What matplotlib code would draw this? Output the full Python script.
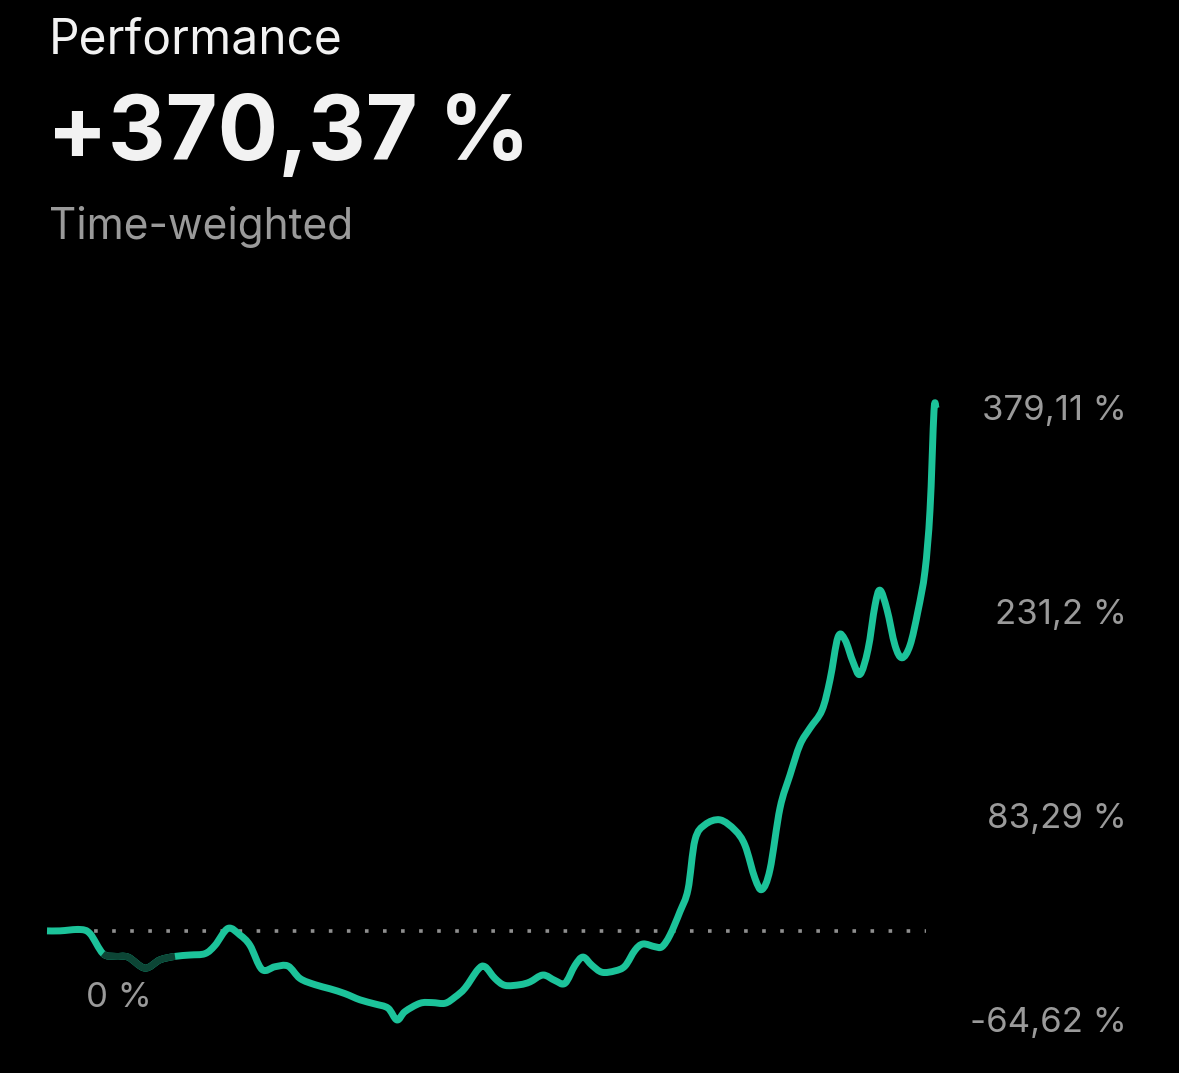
import matplotlib
matplotlib.use("Agg")
import matplotlib.pyplot as plt
import matplotlib.transforms as mtransforms
from matplotlib.path import Path
from matplotlib.patches import PathPatch

# ---- data (time steps and performance in %) ----
days = [0, 13, 33, 43, 56, 68, 81, 98, 113, 128, 143, 158, 168, 181, 193, 203,
        215, 228, 241, 253, 268, 283, 298, 313, 328, 341, 350, 358, 373, 385, 398,
        408, 418, 431, 438, 448, 458, 473, 483, 496, 508, 518, 528, 536, 545, 555,
        568, 578, 588, 596, 608, 615, 623, 633, 641, 648, 658, 673, 688, 698, 708,
        715, 723, 733, 743, 753, 763, 775, 783, 791, 798, 806, 813, 821, 828, 833,
        840, 848, 855, 863, 871, 878, 883, 887, 889]
perf = [0.0, 0.0, 1.0, -2.0, -16.5, -18.5, -19.0, -27.0, -21.0, -18.5, -17.5, -16.5, -10.5, 1.8,
        -3.0, -10.5, -28.0, -26.0, -25.5, -34.5, -39.0, -42.0, -45.5, -50.0, -53.0, -56.0, -64.6,
        -58.5, -52.5, -52.0, -52.5, -48.0, -41.5, -28.0, -26.0, -34.5, -39.5, -39.0, -37.0,
        -32.0, -36.0, -38.0, -25.0, -19.0, -25.0, -30.0, -29.0, -25.5, -14.0, -9.5, -11.5,
        -11.5, -3.0, 14.0, 30.0, 66.0, 77.0, 80.5, 73.0, 62.0, 38.0, 30.0, 44.5, 89.0, 113.0,
        135.0, 147.0, 160.0, 182.0, 213.0, 211.0, 195.0, 186.0, 204.0, 236.0, 247.0, 233.0,
        207.0, 198.0, 207.0, 232.0, 261.0, 305.0, 377.0, 379.11]
highlight_range = (56, 128)          # darker section of the line (days)
baseline_range = (11, 879)           # dotted zero-line extent (days)

y_ticks = [379.11, 231.2, 83.29, -64.62]
y_tick_labels = ["379,11 %", "231,2 %", "83,29 %", "-64,62 %"]

title = "Performance"
headline = "+370,37 %"
subtitle = "Time-weighted"
zero_label = "0 %"

# ---- styling ----
W, H = 1179, 1073
BG = "#000000"
GREEN = "#1cc39a"
DARK_GREEN = "#0c4535"
GREY = "#9a9a9a"
FONT = ["Inter", "DejaVu Sans"]
LW = 5.0


def smooth_path(xs, ys):
    """Smooth rendering of the polyline (Catmull-Rom as cubic Bezier)."""
    verts = [(xs[0], ys[0])]
    codes = [Path.MOVETO]
    n = len(xs)
    for i in range(n - 1):
        x0, y0 = (xs[i - 1], ys[i - 1]) if i > 0 else (xs[i], ys[i])
        x1, y1 = xs[i], ys[i]
        x2, y2 = xs[i + 1], ys[i + 1]
        x3, y3 = (xs[i + 2], ys[i + 2]) if i + 2 < n else (x2, y2)
        c1 = (x1 + (x2 - x0) / 6.0, y1 + (y2 - y0) / 6.0)
        c2 = (x2 - (x3 - x1) / 6.0, y2 - (y3 - y1) / 6.0)
        verts += [c1, c2, (x2, y2)]
        codes += [Path.CURVE4] * 3
    return Path(verts, codes)


fig = plt.figure(figsize=(W / 100, H / 100), dpi=100, facecolor=BG)
ax = fig.add_axes([47 / W, (H - 1020) / H, 889 / W, 612 / H], facecolor=BG)
ax.set_xlim(0, 889)
ax.set_ylim(min(y_ticks), max(y_ticks))
for s in ax.spines.values():
    s.set_visible(False)
ax.set_xticks([])
ax.set_yticks([])

# dotted zero line
ax.plot(list(baseline_range), [0, 0], color="#8f8f8f", lw=2.6,
        linestyle=(0, (1, 4.0)), dash_capstyle="butt", zorder=1)

# main line
full = smooth_path(days, perf)
ax.add_patch(PathPatch(full, facecolor="none", edgecolor=GREEN,
                       lw=LW, capstyle="butt", joinstyle="round", clip_on=False, zorder=3))

# darker highlighted section
idx = [i for i, d in enumerate(days) if highlight_range[0] <= d <= highlight_range[1]]
lo, hi = idx[0], idx[-1]
seg_verts = full.vertices[3 * lo: 3 * hi + 1]
seg_codes = [Path.MOVETO] + [Path.CURVE4] * (len(seg_verts) - 1)
ax.add_patch(PathPatch(Path(seg_verts, seg_codes), facecolor="none", edgecolor=DARK_GREEN,
                       lw=LW, capstyle="butt", joinstyle="round", clip_on=False, zorder=4))

# right-hand value labels
trans = mtransforms.blended_transform_factory(fig.transFigure, ax.transData)
for v, lab in zip(y_ticks, y_tick_labels):
    ax.text(1127 / W, v - 2.0, lab, transform=trans, ha="right", va="center",
            color=GREY, fontsize=25, family=FONT)

# zero label under the start of the line
ax.text(119 / W, -48.5, zero_label, transform=trans, ha="center", va="center",
        color=GREY, fontsize=25, family=FONT)

# header texts
fig.text(49 / W, 1 - 41 / H, title, ha="left", va="center", color="#f2f2f2",
         fontsize=34.5, family=FONT)
fig.text(47 / W, 1 - 136 / H, headline, ha="left", va="center", color="#f2f2f2",
         fontsize=64.5, fontweight="bold", family=FONT)
fig.text(49 / W, 1 - 227 / H, subtitle, ha="left", va="center", color=GREY,
         fontsize=30.5, family=FONT)

fig.savefig("out.png", dpi=100, facecolor=BG)
